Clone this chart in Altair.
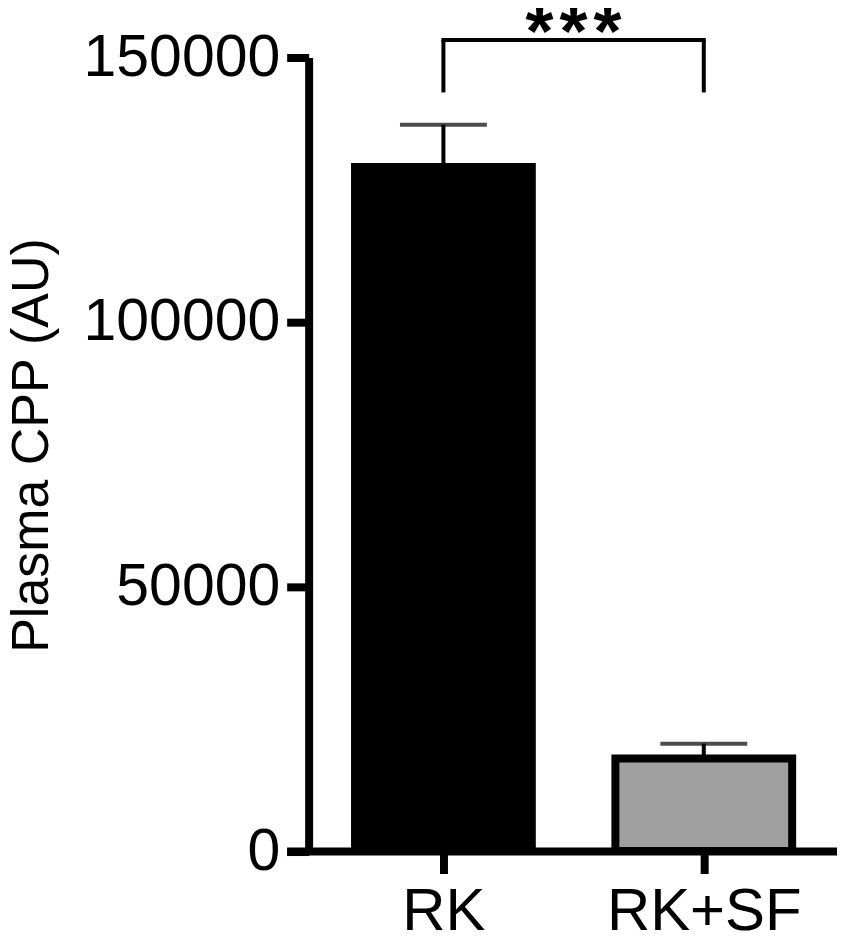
import altair as alt
import pandas as pd

categories = ["RK", "RK+SF"]
positions = [1, 2]
means = [129300, 17500]
sems = [8000, 2800]

bracket_left = 1
bracket_right = 2
bracket_top = 153300
bracket_bottom = 143400
sig_label = "*\u200a*\u200a*"
sig_x = 1.5
sig_y = 154500

df = pd.DataFrame({
    "cat": categories,
    "pos": positions,
    "mean": means,
    "upper": [m + s for m, s in zip(means, sems)],
})
br = pd.DataFrame({
    "left": [bracket_left], "right": [bracket_right],
    "top": [bracket_top], "bottom": [bracket_bottom],
})
sig = pd.DataFrame({"x": [sig_x], "y": [sig_y], "t": [sig_label]})

FONT = "Liberation Sans"

label_expr = " : ".join(
    [f"datum.value == {p} ? '{c}'" for p, c in zip(positions, categories)]
) + " : ''"

xscale = alt.Scale(domain=[0.4171, 2.4925], nice=False, zero=False)
yscale = alt.Scale(domain=[0, 150000], nice=False)

xax = alt.Axis(
    values=positions, labelExpr=label_expr, title=None, grid=False,
    domainColor="black", domainWidth=8, tickColor="black", tickWidth=8,
    tickSize=22.5, labelFontSize=60, labelFont=FONT, labelColor="black",
    labelPadding=9, labelLimit=1000,
)
yax = alt.Axis(
    values=[0, 50000, 100000, 150000], format="d", title="Plasma CPP (AU)",
    grid=False, offset=-22, domainColor="black", domainWidth=8,
    tickColor="black", tickWidth=8, tickSize=22, labelFontSize=59,
    labelFont=FONT, labelColor="black", labelPadding=7, labelLimit=1000,
    titleFont=FONT, titleFontSize=52, titleFontWeight="normal",
    titleColor="black", titleAngle=270, titleX=-261, titleY=388,
    titleAlign="center", titleBaseline="alphabetic", titleLimit=2000,
)

base = alt.Chart(df)

err = base.mark_rule(color="black", strokeWidth=4).encode(
    x=alt.X("pos:Q", scale=xscale, axis=xax),
    y=alt.Y("mean:Q", scale=yscale, axis=yax),
    y2="upper:Q",
)
cap = base.mark_tick(color="black", size=87, thickness=4, orient="horizontal").encode(
    x=alt.X("pos:Q", scale=xscale),
    y=alt.Y("upper:Q", scale=yscale),
)
bars = base.mark_bar(size=177, stroke="black", strokeWidth=8).encode(
    x=alt.X("pos:Q", scale=xscale),
    y=alt.Y("mean:Q", scale=yscale),
    fill=alt.Fill("cat:N", scale=alt.Scale(domain=categories, range=["#000000", "#a0a0a0"]), legend=None),
)

b = alt.Chart(br)
hline = b.mark_rule(color="black", strokeWidth=4, strokeCap="square").encode(
    x=alt.X("left:Q", scale=xscale), x2="right:Q", y=alt.Y("top:Q", scale=yscale),
)
lleg = b.mark_rule(color="black", strokeWidth=4).encode(
    x=alt.X("left:Q", scale=xscale), y=alt.Y("bottom:Q", scale=yscale), y2="top:Q",
)
rleg = b.mark_rule(color="black", strokeWidth=4).encode(
    x=alt.X("right:Q", scale=xscale), y=alt.Y("bottom:Q", scale=yscale), y2="top:Q",
)
stars = alt.Chart(sig).mark_text(
    font=FONT, fontSize=72, fontWeight="bold", baseline="middle", align="center", color="black"
).encode(
    x=alt.X("x:Q", scale=xscale), y=alt.Y("y:Q", scale=yscale), text="t:N",
)

chart = alt.layer(err, cap, bars, hline, lleg, rleg, stars).properties(
    width=551, height=794.5,
    autosize=alt.AutoSizeParams(type="none"),
    padding={"left": 279, "top": 49, "right": 0, "bottom": 87},
    background="white",
).configure_view(stroke=None)

chart.save("out.html", embed_options={"renderer": "svg", "actions": False})
